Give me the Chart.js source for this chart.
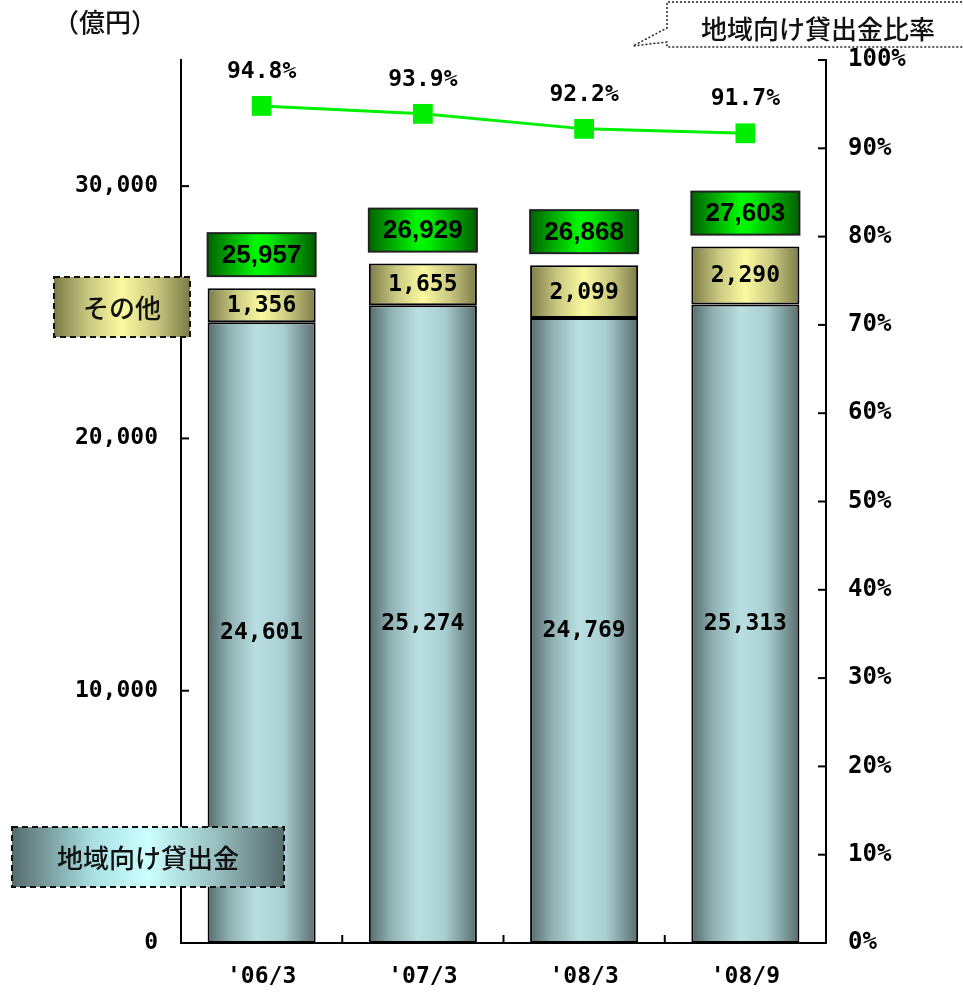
<!DOCTYPE html>
<html>
<head>
<meta charset="utf-8">
<script src="https://cdn.jsdelivr.net/npm/chart.js@4"></script>
<style>
  html, body { margin: 0; padding: 0; background: #fff; }
  #wrap { width: 963px; height: 994px; position: relative; }
</style>
</head>
<body>
<div id="wrap"><canvas id="myChart" width="963" height="994"></canvas></div>
<script>
// data
const labels = ["'06/3", "'07/3", "'08/3", "'08/9"];
const localLoans = [24601, 25274, 24769, 25313];   // 地域向け貸出金
const otherLoans = [1356, 1655, 2099, 2290];       // その他
const totals = [25957, 26929, 26868, 27603];
const localRatio = [94.8, 93.9, 92.2, 91.7];       // 地域向け貸出金比率 (%)
const leftTicks = [0, 10000, 20000, 30000];

const monoFont = '"DejaVu Sans Mono", monospace';
const jpFont = '"Noto Sans CJK JP", sans-serif';
const barPct = 0.67;

function hGrad(ctx, x0, x1, stops) {
    let g = ctx.createLinearGradient(x0, 0, x1, 0);
    stops.forEach(s => g.addColorStop(s[0], s[1]));
    return g;
}
const tealStops = [[0, '#566b6c'], [0.2, '#8fb0b1'], [0.45, '#b9dfe2'], [0.7, '#a9cfd2'], [1, '#5a6d6d']];
const oliveStops = [[0, '#7c7b48'], [0.25, '#c9c880'], [0.5, '#fbfaa0'], [0.75, '#c9c880'], [1, '#7c7b48']];
const greenStops = [[0, '#006400'], [0.45, '#00f800'], [0.55, '#00f000'], [1, '#006000']];

function barFill(stops, fallback) {
    return function (c) {
        let chart = c.chart;
        let xs = chart.scales.x;
        if (!xs || !chart.chartArea) return fallback;
        let cx = xs.getPixelForValue(c.dataIndex);
        let half = chart.chartArea.width / labels.length * barPct / 2;
        return hGrad(chart.ctx, cx - half, cx + half, stops);
    }
}

const decor = {
    id: 'decor',
    afterDraw(chart) {
        const ctx = chart.ctx;
        const xs = chart.scales.x, ys = chart.scales.y, y1 = chart.scales.y1;
        const area = chart.chartArea;
        ctx.save();

        // inward tick marks
        ctx.strokeStyle = '#000';
        ctx.lineWidth = 2;
        ys.ticks.forEach((t, i) => {
            let py = ys.getPixelForTick(i);
            ctx.beginPath(); ctx.moveTo(area.left, py); ctx.lineTo(area.left + 8, py); ctx.stroke();
        });
        y1.ticks.forEach((t, i) => {
            let py = y1.getPixelForTick(i);
            ctx.beginPath(); ctx.moveTo(area.right, py); ctx.lineTo(area.right - 8, py); ctx.stroke();
        });
        for (let i = 0; i < labels.length - 1; i++) {
            let px = (xs.getPixelForValue(i) + xs.getPixelForValue(i + 1)) / 2;
            ctx.beginPath(); ctx.moveTo(px, area.bottom); ctx.lineTo(px, area.bottom - 8); ctx.stroke();
        }

        // values inside segments
        ctx.fillStyle = '#000';
        ctx.textAlign = 'center';
        ctx.textBaseline = 'middle';
        ctx.font = 'bold 23px ' + monoFont;
        const fmt = v => v.toLocaleString('en-US');
        chart.getDatasetMeta(0).data.forEach((el, i) => {
            ctx.fillText(fmt(localLoans[i]), el.x, (el.y + el.base) / 2);
        });
        chart.getDatasetMeta(1).data.forEach((el, i) => {
            ctx.fillText(fmt(otherLoans[i]), el.x, (el.y + el.base) / 2 + 1);
        });

        // total boxes above bars
        chart.getDatasetMeta(1).data.forEach((el, i) => {
            let w = el.width, h = 43;
            let bx = el.x - w / 2, by = el.y - 12 - h;
            ctx.fillStyle = hGrad(ctx, bx, bx + w, greenStops);
            ctx.fillRect(bx, by, w, h);
            ctx.strokeStyle = '#222';
            ctx.lineWidth = 2;
            ctx.strokeRect(bx, by, w, h);
            ctx.fillStyle = '#000';
            ctx.font = 'bold 26px "Liberation Sans", Arial, sans-serif';
            ctx.fillText(fmt(totals[i]), el.x, by + h / 2 + 1);
        });

        // ratio labels
        ctx.font = 'bold 23px ' + monoFont;
        chart.getDatasetMeta(2).data.forEach((el, i) => {
            ctx.fillText(localRatio[i].toFixed(1) + '%', el.x, el.y - 34);
        });

        // legend boxes
        function legendBox(x, y, w, h, stops, text) {
            ctx.fillStyle = hGrad(ctx, x, x + w, stops);
            ctx.fillRect(x, y, w, h);
            ctx.setLineDash([6, 4]);
            ctx.strokeStyle = '#111';
            ctx.lineWidth = 2;
            ctx.strokeRect(x, y, w, h);
            ctx.setLineDash([]);
            ctx.fillStyle = '#111';
            ctx.font = '500 26px ' + jpFont;
            ctx.fillText(text, x + w / 2, y + h / 2 + 1);
        }
        legendBox(54, 277, 136, 60, oliveStops, 'その他');
        legendBox(12, 827, 272, 60, [[0, '#566b6c'], [0.3, '#a9e0e2'], [0.5, '#ccffff'], [0.75, '#98bfc0'], [1, '#566b6c']], '地域向け貸出金');

        // unit label
        ctx.font = '500 26px ' + jpFont;
        ctx.fillText('（億円）', 105, 22);

        // callout for the ratio line
        ctx.setLineDash([2, 2]);
        ctx.lineWidth = 1.5;
        ctx.strokeStyle = '#222';
        ctx.beginPath();
        ctx.moveTo(970, 2); ctx.lineTo(667, 2); ctx.lineTo(667, 28); ctx.lineTo(633, 46);
        ctx.lineTo(667, 42); ctx.lineTo(667, 47); ctx.lineTo(970, 47);
        ctx.stroke();
        ctx.setLineDash([]);
        ctx.fillStyle = '#111';
        ctx.font = '500 26px ' + jpFont;
        ctx.fillText('地域向け貸出金比率', 818, 29);

        ctx.restore();
    }
};

new Chart("myChart", {
    type: 'bar',
    data: {
        labels: labels,
        datasets: [
            {
                label: '地域向け貸出金',
                data: localLoans,
                backgroundColor: barFill(tealStops, '#a9cfd2'),
                borderColor: '#000',
                borderWidth: 2,
                borderSkipped: false,
                barPercentage: barPct,
                categoryPercentage: 1,
                stack: 's',
                order: 2
            },
            {
                label: 'その他',
                data: otherLoans,
                backgroundColor: barFill(oliveStops, '#e0df90'),
                borderColor: '#000',
                borderWidth: 2,
                borderSkipped: false,
                barPercentage: barPct,
                categoryPercentage: 1,
                stack: 's',
                order: 2
            },
            {
                type: 'line',
                label: '地域向け貸出金比率',
                data: localRatio,
                yAxisID: 'y1',
                borderColor: '#00f000',
                borderWidth: 3,
                pointStyle: 'rect',
                pointRadius: 14,
                pointBackgroundColor: '#00ee00',
                pointBorderWidth: 0,
                tension: 0,
                order: 0
            }
        ]
    },
    options: {
        responsive: false,
        animation: false,
        locale: 'en-US',
        layout: { padding: { top: 60, left: 0, right: 0, bottom: 0 } },
        plugins: {
            legend: { display: false },
            tooltip: { enabled: false },
            title: { display: false }
        },
        scales: {
            x: {
                stacked: true,
                offset: true,
                grid: { display: false, drawTicks: false },
                border: { display: true, color: '#000', width: 2 },
                ticks: {
                    color: '#000',
                    padding: 20,
                    font: { family: monoFont, size: 23, weight: 'bold' }
                },
                afterFit: s => { s.height = 51; }
            },
            y: {
                stacked: true,
                min: 0,
                max: 35000,
                grid: { display: false, drawTicks: false },
                border: { display: true, color: '#000', width: 2 },
                ticks: {
                    color: '#000',
                    padding: 23,
                    font: { family: monoFont, size: 23, weight: 'bold' }
                },
                afterBuildTicks: s => { s.ticks = leftTicks.map(v => ({ value: v })); },
                afterFit: s => { s.width = 181; }
            },
            y1: {
                position: 'right',
                min: 0,
                max: 100,
                grid: { display: false, drawTicks: false },
                border: { display: true, color: '#000', width: 2 },
                ticks: {
                    stepSize: 10,
                    color: '#000',
                    padding: 22,
                    font: { family: monoFont, size: 24, weight: 'bold' },
                    callback: v => v + '%'
                },
                afterFit: s => { s.width = 137; }
            }
        }
    },
    plugins: [decor]
});
</script>
</body>
</html>
